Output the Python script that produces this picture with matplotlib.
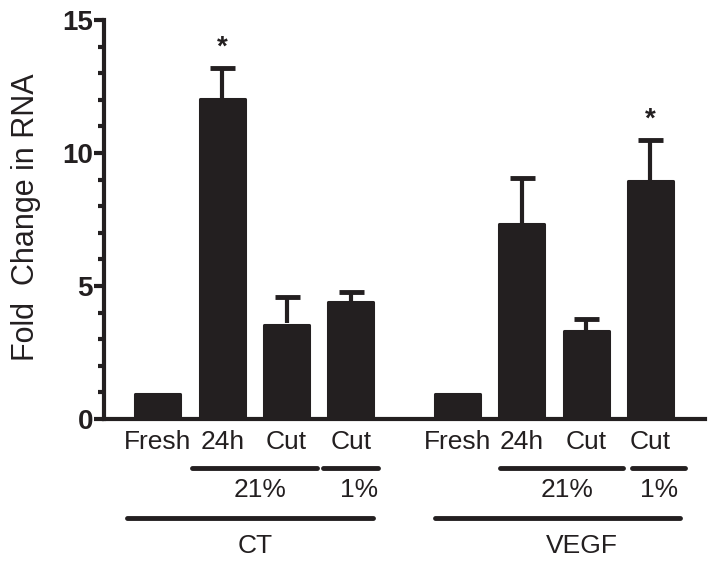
import matplotlib
matplotlib.use('Agg')
import matplotlib.pyplot as plt
import numpy as np

plt.rcParams['font.family'] = ['Liberation Sans', 'DejaVu Sans']

# data
groups = ['CT', 'VEGF']
conditions = ['Fresh', '24h', 'Cut', 'Cut']
ct_vals = [1.0, 12.08, 3.6, 4.43]
ct_err = [0.0, 1.12, 1.0, 0.35]
vegf_vals = [1.0, 7.38, 3.35, 8.98]
vegf_err = [0.0, 1.69, 0.41, 1.51]
signif = [False, True, False, False, False, False, False, True]

black = '#231f20'
gap = 1.66
pos = np.array([0, 1, 2, 3, gap + 3, gap + 4, gap + 5, gap + 6])
vals = np.array(ct_vals + vegf_vals)
errs = np.array(ct_err + vegf_err)

fig = plt.figure(figsize=(7.11, 5.64), dpi=100)
ax = fig.add_axes([104/711, 145/564, 601/711, 399/564])

bars = ax.bar(pos, vals - 0.05, width=0.70, color=black, edgecolor=black,
              linewidth=2.2, zorder=2)
for b in bars:
    b.set_joinstyle('round')

m = errs > 0
eb = ax.errorbar(pos[m], vals[m], yerr=[np.zeros(m.sum()), errs[m]],
                 fmt='none', ecolor=black, elinewidth=3, capsize=9,
                 capthick=3.5, zorder=1)
eb[1][0].set_visible(False)  # hide the lower caps

for p, v, e, s in zip(pos, vals, errs, signif):
    if s:
        ax.text(p, v + e + 0.75, '*', ha='center', va='center', fontsize=20,
                fontweight='bold', color=black)

ax.set_xlim(-0.84, pos[-1] + 0.85)
ax.set_ylim(0, 15)
ax.set_yticks([0, 5, 10, 15])
ax.set_yticks(np.arange(0, 16, 1), minor=True)
ax.set_xticks([])
for sp in ['top', 'right']:
    ax.spines[sp].set_visible(False)
for sp in ['left', 'bottom']:
    ax.spines[sp].set_linewidth(3)
    ax.spines[sp].set_color(black)
ax.tick_params(axis='y', which='major', length=7, width=3, pad=1,
               labelsize=20, colors=black)
ax.tick_params(axis='y', which='minor', length=4, width=3, colors=black)
for t in ax.get_yticklabels():
    t.set_fontweight('bold')

fig.text(26/711, 1 - 217/564, 'Fold  Change in RNA', rotation=90,
         ha='center', va='center', fontsize=22, color=black)

# category annotations below the axis
pct_x = [[1.59, 3.13], [6.36, 7.79]]
pct_lines = [[(0.53, 2.47), (2.57, 3.42)], [(5.32, 7.23), (7.37, 8.20)]]
grp_lines = [(-0.48, 3.34), (4.31, 8.12)]
grp_x = [1.51, 6.59]

for g in range(2):
    for x, name in zip(pos[4*g:4*g + 4], conditions):
        ax.text(x, -0.86, name, ha='center', va='center', fontsize=19,
                color=black, clip_on=False)
    for (a, b), name, x in zip(pct_lines[g], ['21%', '1%'], pct_x[g]):
        ax.plot([a, b], [-1.84, -1.84], color=black, lw=3.5,
                solid_capstyle='round', clip_on=False)
        ax.text(x, -2.67, name, ha='center', va='center', fontsize=19,
                color=black, clip_on=False)
    a, b = grp_lines[g]
    ax.plot([a, b], [-3.72, -3.72], color=black, lw=3.5,
            solid_capstyle='round', clip_on=False)
    ax.text(grp_x[g], -4.78, groups[g], ha='center', va='center',
            fontsize=19, color=black, clip_on=False)

fig.savefig('out.png', dpi=100)
